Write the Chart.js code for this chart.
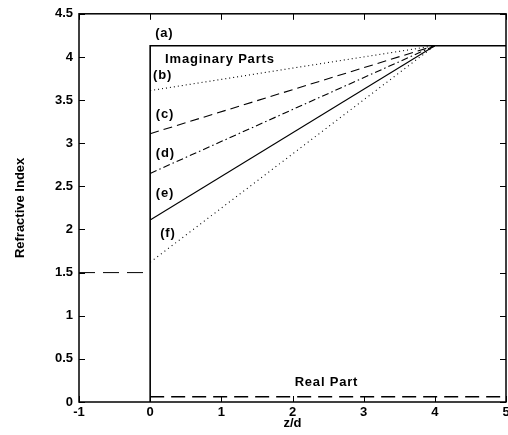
<!DOCTYPE html>
<html>
<head>
<meta charset="utf-8">
<script src="https://cdn.jsdelivr.net/npm/chart.js@4"></script>
<style>
  html, body { margin: 0; padding: 0; background: #fff; }
  #wrap { width: 508px; height: 435px; }
</style>
</head>
<body>
<div id="wrap"><canvas id="chart" width="508" height="435"></canvas></div>
<script>
// data
const xTicks = [-1, 0, 1, 2, 3, 4, 5];
const yTicks = [0, 0.5, 1, 1.5, 2, 2.5, 3, 3.5, 4, 4.5];
const curveNames = ["(a)", "(b)", "(c)", "(d)", "(e)", "(f)"];
const imagStart = [4.13, 3.61, 3.11, 2.65, 2.11, 1.62];
const imagTop = 4.13;
const zMeet = 4;
const zEnd = 5;
const realOutside = 1.5;
const realInside = 0.06;
const labelPos = [[0.07, 4.27], [0.04, 3.78], [0.08, 3.33], [0.08, 2.88], [0.08, 2.42], [0.14, 1.95]];

const family = "'Liberation Sans', Arial, sans-serif";
const dashes = [[], [1, 3], [9, 5], [7, 3, 1.5, 3], [], [1, 3.5]];

let datasets = [];
curveNames.forEach((name, i) => {
  let pts;
  if (i === 0) pts = [{x: 0, y: 0}, {x: 0, y: imagTop}, {x: zEnd, y: imagTop}];
  else pts = [{x: 0, y: imagStart[i]}, {x: zMeet, y: imagTop}];
  datasets.push({
    label: name, data: pts, borderColor: "#000", borderWidth: i === 0 ? 1.6 : 1.1,
    borderDash: dashes[i], pointRadius: 0, fill: false
  });
});
datasets.push({
  label: "real out", data: [{x: -1, y: realOutside}, {x: 0, y: realOutside}],
  borderColor: "#000", borderWidth: 1, borderDash: [16, 8], pointRadius: 0
});
datasets.push({
  label: "real in", data: [{x: 0, y: realInside}, {x: zEnd, y: realInside}],
  borderColor: "#000", borderWidth: 1.6, borderDash: [14, 7], pointRadius: 0
});

const annotate = {
  id: "annotate",
  afterDatasetsDraw(chart) {
    const {ctx, chartArea: a, scales: {x, y}} = chart;
    ctx.save();
    // frame
    ctx.strokeStyle = "#000";
    ctx.lineWidth = 1.5;
    ctx.strokeRect(a.left, a.top, a.right - a.left, a.bottom - a.top);
    // inward ticks on all sides
    ctx.lineWidth = 1;
    ctx.beginPath();
    xTicks.forEach(v => {
      let px = Math.round(x.getPixelForValue(v)) + 0.5;
      ctx.moveTo(px, a.bottom); ctx.lineTo(px, a.bottom - 6);
      ctx.moveTo(px, a.top); ctx.lineTo(px, a.top + 6);
    });
    yTicks.forEach(v => {
      let py = Math.round(y.getPixelForValue(v)) + 0.5;
      ctx.moveTo(a.left, py); ctx.lineTo(a.left + 6, py);
      ctx.moveTo(a.right, py); ctx.lineTo(a.right - 6, py);
    });
    ctx.stroke();
    // labels
    ctx.fillStyle = "#000";
    ctx.font = "bold 13px " + family;
    ctx.letterSpacing = "0.8px";
    ctx.textBaseline = "middle";
    curveNames.forEach((n, i) => {
      ctx.fillText(n, x.getPixelForValue(labelPos[i][0]), y.getPixelForValue(labelPos[i][1]));
    });
    ctx.fillText("Imaginary Parts", x.getPixelForValue(0.21), y.getPixelForValue(3.97));
    ctx.fillText("Real Part", x.getPixelForValue(2.03), y.getPixelForValue(0.23));
    ctx.restore();
  }
};

new Chart(document.getElementById("chart").getContext("2d"), {
  type: "line",
  data: { datasets: datasets },
  plugins: [annotate],
  options: {
    responsive: false,
    animation: false,
    layout: { padding: { top: 12, right: 2, left: 0, bottom: 0 } },
    plugins: { legend: { display: false }, tooltip: { enabled: false } },
    scales: {
      x: {
        type: "linear", min: -1, max: 5,
        afterBuildTicks: s => { s.ticks = xTicks.map(v => ({value: v})); },
        afterFit: s => { s.height = 33; s.paddingRight = 0; },
        grid: { display: false, drawTicks: false },
        border: { display: false },
        ticks: { color: "#000", padding: 3, font: { family: family, size: 13, weight: "bold" }, maxRotation: 0 },
        title: { display: true, text: "z/d", color: "#000", padding: { top: 0, bottom: 4 }, font: { family: family, size: 13, weight: "bold" } }
      },
      y: {
        type: "linear", min: 0, max: 4.5,
        afterBuildTicks: s => { s.ticks = yTicks.map(v => ({value: v})); },
        afterFit: s => { s.width = 79; },
        grid: { display: false, drawTicks: false },
        border: { display: false },
        ticks: { color: "#000", padding: 6, font: { family: family, size: 13, weight: "bold" }, callback: v => String(v) },
        title: { display: true, text: "Refractive Index", color: "#000", padding: { top: 13, bottom: 0 }, font: { family: family, size: 13, weight: "bold" } }
      }
    }
  }
});
</script>
</body>
</html>
